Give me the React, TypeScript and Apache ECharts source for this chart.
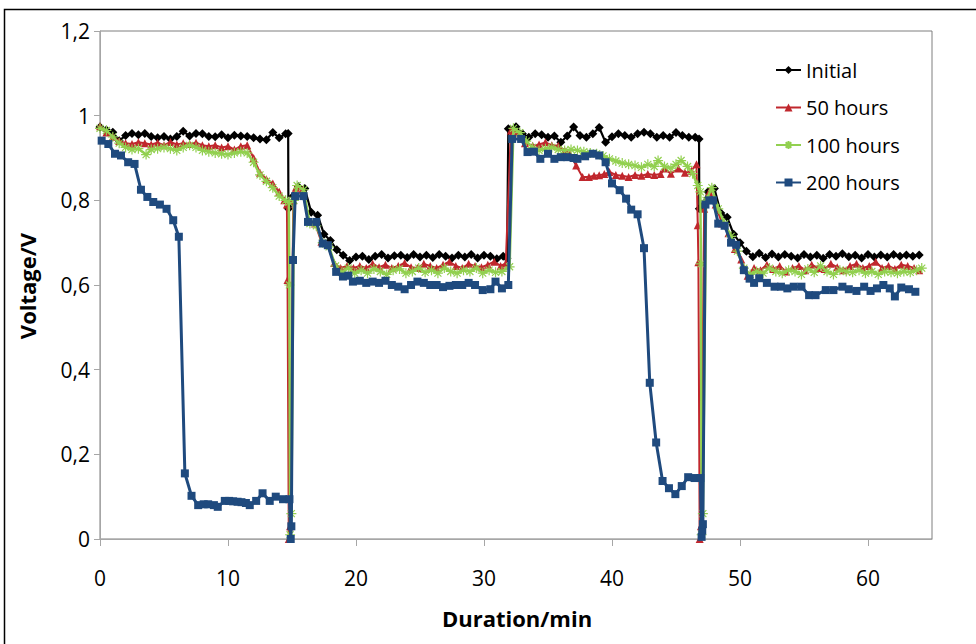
import React, { useEffect, useRef } from "react";
import * as echarts from "echarts";

type Pt = [number, number];

const seriesNames = ["Initial", "50 hours", "100 hours", "200 hours"];
const xTicks = [0, 10, 20, 30, 40, 50, 60];
const yTicks = [0, 0.2, 0.4, 0.6, 0.8, 1, 1.2];

const initial: Pt[] = [
  [0, 0.973], [0.5, 0.966], [1, 0.961], [1.5, 0.941], [2, 0.953], [2.5, 0.958], [3, 0.955], [3.5, 0.958],
  [4, 0.951], [4.5, 0.948], [5, 0.951], [5.5, 0.945], [6, 0.951], [6.5, 0.963], [7, 0.952], [7.5, 0.958],
  [8, 0.957], [8.5, 0.951], [9, 0.95], [9.5, 0.955], [10, 0.948], [10.5, 0.954], [11, 0.952], [11.5, 0.951],
  [12, 0.948], [12.5, 0.945], [13, 0.943], [13.5, 0.96], [14, 0.948], [14.5, 0.957], [14.7, 0.958],
  [14.72, 0.78], [14.8, 0.79], [15.1, 0.81], [15.5, 0.832], [16, 0.828], [16.5, 0.772], [17, 0.765],
  [17.5, 0.72], [18, 0.705], [18.5, 0.683], [19, 0.67], [19.5, 0.658], [20, 0.666], [20.5, 0.668],
  [21, 0.66], [21.5, 0.668], [22, 0.672], [22.5, 0.664], [23, 0.669], [23.5, 0.67], [24, 0.665],
  [24.5, 0.672], [25, 0.666], [25.5, 0.67], [26, 0.665], [26.5, 0.672], [27, 0.668], [27.5, 0.664],
  [28, 0.67], [28.5, 0.666], [29, 0.672], [29.5, 0.664], [30, 0.67], [30.5, 0.668], [31, 0.662],
  [31.5, 0.668], [31.8, 0.663], [31.9, 0.969], [32.5, 0.974], [33, 0.957], [33.5, 0.949], [34, 0.957],
  [34.5, 0.955], [35, 0.949], [35.5, 0.952], [36, 0.937], [36.5, 0.952], [37, 0.973], [37.5, 0.953],
  [38, 0.949], [38.5, 0.957], [39, 0.972], [39.5, 0.937], [40, 0.95], [40.5, 0.957], [41, 0.953],
  [41.5, 0.949], [42, 0.957], [42.5, 0.961], [43, 0.957], [43.5, 0.949], [44, 0.953], [44.5, 0.949],
  [45, 0.96], [45.5, 0.953], [46, 0.949], [46.5, 0.949], [46.8, 0.945], [46.82, 0.78], [47, 0.785],
  [47.5, 0.82], [48, 0.828], [48.5, 0.77], [49, 0.76], [49.5, 0.72], [50, 0.7], [50.5, 0.68],
  [51, 0.667], [51.5, 0.675], [52, 0.665], [52.5, 0.673], [53, 0.666], [53.5, 0.672], [54, 0.668],
  [54.5, 0.664], [55, 0.672], [55.5, 0.666], [56, 0.67], [56.5, 0.663], [57, 0.672], [57.5, 0.668],
  [58, 0.674], [58.5, 0.667], [59, 0.67], [59.5, 0.664], [60, 0.672], [60.5, 0.666], [61, 0.671],
  [61.5, 0.666], [62, 0.672], [62.5, 0.668], [63, 0.671], [63.5, 0.668], [64, 0.671],
];

const hours50: Pt[] = [
  [0, 0.975], [0.5, 0.96], [1, 0.95], [1.5, 0.94], [2, 0.935], [2.5, 0.933], [3, 0.937], [3.5, 0.935],
  [4, 0.932], [4.5, 0.936], [5, 0.93], [5.5, 0.938], [6, 0.932], [6.5, 0.935], [7, 0.933], [7.5, 0.936],
  [8, 0.93], [8.5, 0.928], [9, 0.93], [9.5, 0.925], [10, 0.928], [10.5, 0.92], [11, 0.928], [11.5, 0.93],
  [12, 0.9], [12.5, 0.865], [13, 0.85], [13.5, 0.84], [14, 0.82], [14.4, 0.8], [14.6, 0.79],
  [14.65, 0.612], [14.75, 0.0], [14.85, 0.03], [15.1, 0.8], [15.3, 0.83], [15.8, 0.825], [16.3, 0.752],
  [16.8, 0.745], [17.3, 0.702], [17.8, 0.695], [18.3, 0.652], [18.8, 0.64], [19.3, 0.645], [19.8, 0.64],
  [20.3, 0.645], [20.8, 0.64], [21.3, 0.65], [21.8, 0.642], [22.3, 0.648], [22.8, 0.64], [23.3, 0.645],
  [23.8, 0.652], [24.3, 0.642], [24.8, 0.64], [25.3, 0.65], [25.8, 0.645], [26.3, 0.64], [26.8, 0.648],
  [27.3, 0.655], [27.8, 0.645], [28.3, 0.64], [28.8, 0.65], [29.3, 0.645], [29.8, 0.642], [30.3, 0.648],
  [30.8, 0.655], [31.3, 0.645], [31.7, 0.651], [32.1, 0.965], [32.6, 0.96], [33.2, 0.935], [33.8, 0.929],
  [34.3, 0.932], [34.8, 0.937], [35.3, 0.93], [35.8, 0.929], [36.3, 0.918], [36.7, 0.91], [37.2, 0.882],
  [37.7, 0.855], [38.2, 0.855], [38.6, 0.858], [39, 0.859], [39.4, 0.862], [39.8, 0.867], [40.3, 0.86],
  [40.8, 0.858], [41.3, 0.855], [41.8, 0.86], [42.3, 0.858], [42.8, 0.862], [43.3, 0.86], [43.8, 0.862],
  [44.1, 0.875], [44.6, 0.863], [45.2, 0.875], [45.7, 0.865], [46.2, 0.87], [46.6, 0.885], [46.7, 0.741],
  [46.75, 0.654], [46.85, 0.0], [46.95, 0.03], [47.2, 0.78], [47.6, 0.82], [48.1, 0.79], [48.6, 0.745],
  [49.1, 0.722], [49.6, 0.685], [50.1, 0.66], [50.6, 0.622], [51.1, 0.64], [51.6, 0.635], [52.1, 0.648],
  [52.6, 0.638], [53.1, 0.645], [53.6, 0.632], [54.1, 0.64], [54.6, 0.645], [55.1, 0.635], [55.6, 0.648],
  [56.1, 0.64], [56.6, 0.638], [57.1, 0.65], [57.6, 0.642], [58.1, 0.635], [58.6, 0.645], [59.1, 0.65],
  [59.6, 0.64], [60.1, 0.645], [60.6, 0.655], [61.1, 0.64], [61.6, 0.645], [62.1, 0.638], [62.6, 0.648],
  [63.1, 0.645], [63.6, 0.64], [64, 0.635],
];

const hours100: Pt[] = [
  [0, 0.97], [0.5, 0.965], [1, 0.95], [1.5, 0.935], [2, 0.925], [2.5, 0.92], [3, 0.922], [3.6, 0.908],
  [4, 0.92], [4.5, 0.922], [5, 0.925], [5.5, 0.922], [6, 0.918], [6.5, 0.925], [7, 0.93], [7.5, 0.925],
  [8, 0.918], [8.5, 0.915], [9, 0.912], [9.5, 0.91], [10, 0.908], [10.5, 0.912], [11, 0.915], [11.5, 0.912],
  [12, 0.89], [12.5, 0.86], [13, 0.845], [13.5, 0.83], [14, 0.81], [14.5, 0.8], [14.75, 0.795],
  [14.8, 0.6], [14.85, 0.01], [14.95, 0.06], [15.15, 0.8], [15.4, 0.835], [15.9, 0.825], [16.4, 0.745],
  [16.9, 0.74], [17.4, 0.7], [17.9, 0.69], [18.4, 0.645], [18.9, 0.63], [19.4, 0.64], [19.9, 0.628],
  [20.4, 0.635], [20.9, 0.628], [21.4, 0.638], [21.9, 0.632], [22.4, 0.625], [22.9, 0.635], [23.4, 0.638],
  [23.9, 0.628], [24.4, 0.632], [24.9, 0.64], [25.4, 0.63], [25.9, 0.635], [26.4, 0.628], [26.9, 0.64],
  [27.4, 0.632], [27.9, 0.628], [28.4, 0.635], [28.9, 0.632], [29.4, 0.64], [29.9, 0.628], [30.4, 0.635],
  [30.9, 0.63], [31.4, 0.632], [32.0, 0.643], [32.3, 0.97], [32.8, 0.96], [33.3, 0.94], [33.8, 0.925],
  [34.3, 0.918], [34.8, 0.922], [35.3, 0.925], [35.8, 0.92], [36.3, 0.918], [36.8, 0.92], [37.3, 0.918],
  [37.8, 0.915], [38.3, 0.912], [38.8, 0.91], [39.3, 0.905], [39.8, 0.898], [40.3, 0.893], [40.8, 0.888],
  [41.3, 0.885], [41.8, 0.882], [42.3, 0.878], [42.8, 0.885], [43.3, 0.88], [43.6, 0.894], [44.1, 0.88],
  [44.6, 0.876], [45.0, 0.885], [45.4, 0.894], [45.9, 0.88], [46.3, 0.863], [46.7, 0.835], [46.9, 0.82],
  [46.95, 0.65], [47.0, 0.01], [47.1, 0.06], [47.35, 0.8], [47.8, 0.83], [48.3, 0.78], [48.8, 0.745],
  [49.3, 0.715], [49.8, 0.68], [50.3, 0.64], [50.8, 0.625], [51.3, 0.632], [51.8, 0.628], [52.3, 0.64],
  [52.8, 0.632], [53.3, 0.628], [53.8, 0.635], [54.3, 0.632], [54.8, 0.625], [55.3, 0.638], [55.8, 0.63],
  [56.3, 0.645], [56.8, 0.632], [57.3, 0.625], [57.8, 0.635], [58.3, 0.632], [58.8, 0.63], [59.3, 0.635],
  [59.8, 0.628], [60.3, 0.632], [60.8, 0.625], [61.3, 0.632], [61.8, 0.63], [62.3, 0.628], [62.8, 0.632],
  [63.3, 0.63], [63.8, 0.635], [64.2, 0.64],
];

const hours200: Pt[] = [
  [0.13, 0.941], [0.65, 0.933], [1.17, 0.91], [1.64, 0.906], [2.2, 0.89], [2.7, 0.886], [3.2, 0.825],
  [3.7, 0.808], [4.16, 0.796], [4.68, 0.79], [5.2, 0.78], [5.72, 0.753], [6.16, 0.714], [6.63, 0.155],
  [7.15, 0.102], [7.67, 0.08], [8.1, 0.082], [8.45, 0.082], [8.9, 0.08], [9.2, 0.076], [9.75, 0.09],
  [10.1, 0.09], [10.4, 0.089], [10.75, 0.088], [11.05, 0.087], [11.4, 0.085], [11.7, 0.08], [12.2, 0.09],
  [12.7, 0.108], [13.26, 0.09], [13.73, 0.1], [14.3, 0.094], [14.8, 0.094], [14.9, 0.0], [14.95, 0.03],
  [15.08, 0.659], [15.25, 0.81], [15.9, 0.81], [16.25, 0.749], [16.9, 0.749], [17.4, 0.698], [17.8, 0.694],
  [18.45, 0.631], [18.98, 0.62], [19.4, 0.622], [19.76, 0.608], [20.3, 0.61], [20.8, 0.605], [21.3, 0.608],
  [21.8, 0.605], [22.3, 0.61], [22.8, 0.6], [23.3, 0.596], [23.8, 0.59], [24.3, 0.6], [24.8, 0.608],
  [25.3, 0.605], [25.8, 0.6], [26.3, 0.6], [26.8, 0.595], [27.3, 0.598], [27.8, 0.6], [28.3, 0.6],
  [28.8, 0.605], [29.3, 0.6], [29.9, 0.588], [30.5, 0.59], [30.9, 0.608], [31.4, 0.592], [31.9, 0.6],
  [32.2, 0.945], [32.9, 0.945], [33.4, 0.914], [33.9, 0.915], [34.4, 0.898], [35.0, 0.91], [35.5, 0.898],
  [36.0, 0.902], [36.5, 0.902], [37.0, 0.9], [37.3, 0.898], [37.9, 0.904], [38.5, 0.91], [39.0, 0.906],
  [39.5, 0.89], [40.0, 0.84], [40.6, 0.824], [41.1, 0.804], [41.5, 0.778], [42.0, 0.767], [42.5, 0.687],
  [42.95, 0.369], [43.45, 0.228], [43.95, 0.137], [44.45, 0.12], [44.95, 0.106], [45.45, 0.125],
  [45.95, 0.146], [46.45, 0.144], [46.9, 0.144], [47.0, 0.005], [47.05, 0.02], [47.1, 0.035], [47.3, 0.79],
  [47.6, 0.8], [47.9, 0.8], [48.3, 0.745], [48.8, 0.74], [49.3, 0.7], [49.7, 0.695], [50.3, 0.635],
  [50.75, 0.615], [51.1, 0.605], [51.5, 0.616], [52.1, 0.605], [52.7, 0.596], [53.2, 0.596], [53.7, 0.592],
  [54.2, 0.596], [54.8, 0.596], [55.4, 0.576], [55.9, 0.576], [56.7, 0.588], [57.3, 0.588], [58.0, 0.596],
  [58.5, 0.59], [59.1, 0.586], [59.7, 0.596], [60.2, 0.586], [60.7, 0.592], [61.2, 0.6], [61.7, 0.592],
  [62.1, 0.573], [62.6, 0.594], [63.2, 0.59], [63.7, 0.584],
];

const FONT = '"Open Sans", "Liberation Sans", sans-serif';
const ASTERISK = "path://M5 0 L5 10 M0 5 L10 5 M1.5 1.5 L8.5 8.5 M8.5 1.5 L1.5 8.5";

export default function App() {
  const ref = useRef<HTMLDivElement>(null);

  useEffect(() => {
    document.body.style.margin = "0";
    if (!ref.current) return;
    const chart = echarts.init(ref.current, undefined, { renderer: "svg" });

    const colors = ["#000000", "#C0272D", "#92D050", "#1F4A7E"];
    const dataSets = [initial, hours50, hours100, hours200];
    const symbols = ["diamond", "triangle", ASTERISK, "rect"];
    const sizes = [9, 8, 10, 8];
    const widths = [2.2, 2, 2.5, 3];

    chart.setOption({
      animation: false,
      backgroundColor: "#ffffff",
      grid: {
        left: 100,
        right: 44,
        top: 31,
        bottom: 105,
        show: true,
        borderColor: "#7f7f7f",
        borderWidth: 1,
      },
      legend: {
        orient: "vertical",
        left: 775,
        top: 60,
        padding: 0,
        itemWidth: 25,
        itemHeight: 10,
        itemGap: 17.5,
        data: seriesNames,
        textStyle: { fontFamily: FONT, fontSize: 20, color: "#000", lineHeight: 20 },
      },
      xAxis: {
        type: "value",
        min: 0,
        max: 65,
        interval: 10,
        splitLine: { show: false },
        axisLine: { lineStyle: { color: "#a6a6a6", width: 1 } },
        axisTick: { show: true, length: 7, lineStyle: { color: "#a6a6a6" }, customValues: xTicks },
        axisLabel: {
          customValues: xTicks,
          fontFamily: FONT,
          fontSize: 21,
          color: "#000",
          margin: 28,
        },
      },
      yAxis: {
        type: "value",
        min: 0,
        max: 1.2,
        interval: 0.2,
        splitLine: { show: false },
        axisLine: { show: true, lineStyle: { color: "#a6a6a6", width: 1 } },
        axisTick: { show: true, length: 6, lineStyle: { color: "#a6a6a6" }, customValues: yTicks },
        axisLabel: {
          customValues: yTicks,
          fontFamily: FONT,
          fontSize: 21,
          color: "#000",
          margin: 10,
          formatter: (v: number) => String(Math.round(v * 10) / 10).replace(".", ","),
        },
      },
      graphic: [
        {
          type: "rect",
          silent: true,
          shape: { x: 4.5, y: 9.5, width: 1000, height: 700 },
          style: { fill: "none", stroke: "#000", lineWidth: 1.5 },
        },
        {
          type: "text",
          x: 27,
          y: 286,
          rotation: Math.PI / 2,
          style: {
            text: "Voltage/V",
            fontFamily: FONT,
            fontSize: 22,
            fontWeight: "bold",
            fill: "#000",
            align: "center",
            verticalAlign: "middle",
          },
        },
        {
          type: "text",
          x: 517,
          y: 618,
          style: {
            text: "Duration/min",
            fontFamily: FONT,
            fontSize: 22,
            fontWeight: "bold",
            fill: "#000",
            align: "center",
            verticalAlign: "middle",
          },
        },
      ],
      series: seriesNames.map((name, i) => ({
        name,
        type: "line",
        data: dataSets[i],
        symbol: symbols[i],
        symbolSize: sizes[i],
        showSymbol: true,
        showAllSymbol: true,
        smooth: false,
        z: 2 + i,
        color: colors[i],
        lineStyle: { color: colors[i], width: widths[i] },
        itemStyle:
          i === 2
            ? { color: colors[i], borderColor: colors[i], borderWidth: 1.2 }
            : { color: colors[i], borderWidth: 0 },
      })),
    });

    return () => chart.dispose();
  }, []);

  return (
    <div
      ref={ref}
      style={{ position: "absolute", left: 0, top: 0, width: 976, height: 644, background: "#fff" }}
    />
  );
}
